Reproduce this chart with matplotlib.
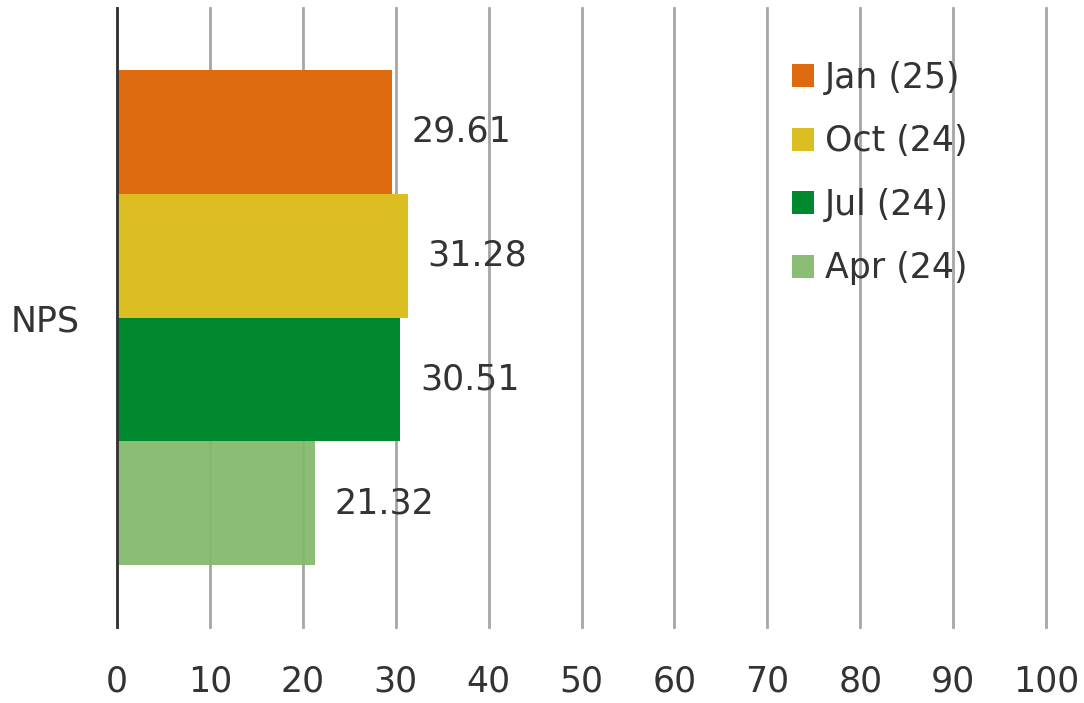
import matplotlib
matplotlib.use("Agg")
import matplotlib.pyplot as plt
from matplotlib.patches import Patch

category = "NPS"
series = ["Jan (25)", "Oct (24)", "Jul (24)", "Apr (24)"]
values = [29.61, 31.28, 30.51, 21.32]
colors = ["#DE6A10", "#DCBE22", "#00882E", "#82B869"]
alphas = [1.0, 1.0, 1.0, 0.93]
xticks = [0, 10, 20, 30, 40, 50, 60, 70, 80, 90, 100]

plt.rcParams['font.family'] = ['DejaVu Sans']
FS = 25
TXT = "#333333"

fig = plt.figure(figsize=(10.84, 7.03), dpi=100)
ax = fig.add_axes([117/1084, 1-627/703, (1046-117)/1084, (627-8)/703])

bh = 0.2
offsets = [0.3, 0.1, -0.1, -0.3]
for s, v, c, a, o in zip(series, values, colors, alphas, offsets):
    ax.barh(o, v, height=bh, color=c, alpha=a, zorder=2, linewidth=0)
    ax.text(v + 2.1, o, f"{v:.2f}", va="center", ha="left", fontsize=FS, color=TXT, zorder=3)

ax.set_xlim(0, 100)
ax.set_ylim(-0.5, 0.5)
ax.set_xticks(xticks)
ax.set_xticklabels([str(t) for t in xticks], fontsize=FS, color=TXT)
ax.set_yticks([0])
ax.set_yticklabels([category], fontsize=FS, color=TXT)
ax.tick_params(axis="x", length=0, pad=27)
ax.tick_params(axis="y", length=0, pad=27)
ax.xaxis.grid(True, color="#A6A6A6", linewidth=2.0, zorder=0)
for gl in ax.get_xgridlines():
    gl.set_clip_on(False)
ax.set_axisbelow(True)
for sp in ["top", "right", "bottom"]:
    ax.spines[sp].set_visible(False)
ax.spines["left"].set_color("#333333")
ax.spines["left"].set_linewidth(2.0)
ax.spines["left"].set_zorder(4)

handles = [Patch(facecolor=c, edgecolor="none", alpha=a) for c, a in zip(colors, alphas)]
leg = ax.legend(handles, series, loc="upper left", bbox_to_anchor=(0.712, 0.937),
                frameon=False, fontsize=FS, handlelength=0.63, handleheight=0.63,
                handletextpad=0.3, labelspacing=0.85, borderaxespad=0)
for t in leg.get_texts():
    t.set_color(TXT)

fig.savefig("out.png", dpi=100, facecolor="white")
